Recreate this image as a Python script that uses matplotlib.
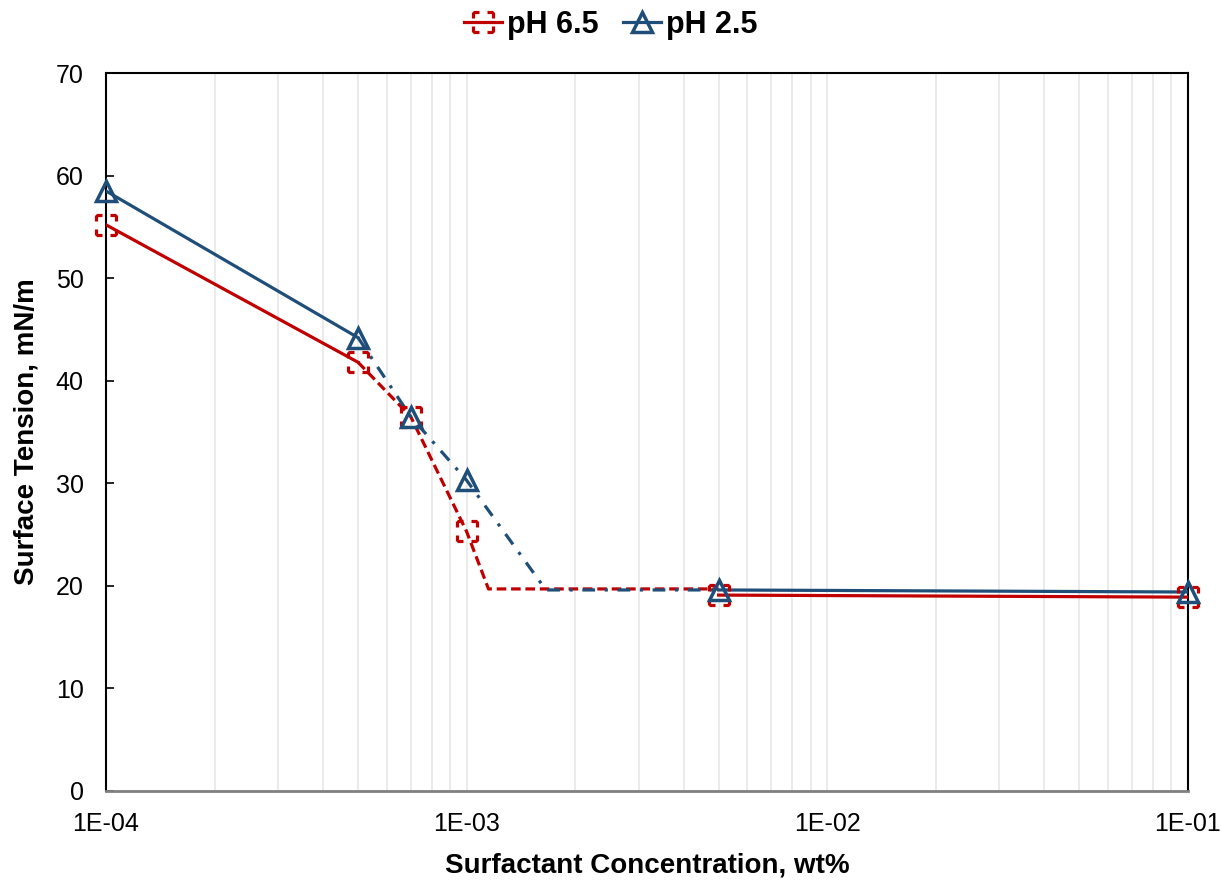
import numpy as np
import matplotlib.pyplot as plt
from matplotlib.path import Path
from matplotlib.ticker import LogLocator, FixedLocator, FuncFormatter, NullFormatter

plt.rcParams['font.family'] = ['Liberation Sans', 'DejaVu Sans']

# measured surface tension vs surfactant concentration
conc = [1e-4, 5e-4, 7e-4, 1e-3, 5e-3, 1e-1]
st_ph65 = [55.2, 41.8, 36.5, 25.3, 19.1, 18.9]
st_ph25 = [58.5, 44.2, 36.5, 30.3, 19.6, 19.4]

# CMC break points where the fitted line levels off
cmc_ph65 = (1.15e-3, 19.7)
cmc_ph25 = (1.66e-3, 19.6)

red = '#C00000'
blue = '#1F4E79'

# square marker drawn as four corner brackets (dashed outline look)
verts, codes = [], []
for (x0, y0), (x1, y1) in [((-1, -1), (1, -1)), ((1, -1), (1, 1)),
                           ((1, 1), (-1, 1)), ((-1, 1), (-1, -1))]:
    for a, b in [(0.0, 0.3), (0.7, 1.0)]:
        verts += [(x0 + (x1 - x0) * a, y0 + (y1 - y0) * a),
                  (x0 + (x1 - x0) * b, y0 + (y1 - y0) * b)]
        codes += [Path.MOVETO, Path.LINETO]
dash_square = Path(verts, codes)

fig = plt.figure(figsize=(12.21, 8.82), dpi=100)
ax = fig.add_axes([0.0868, 0.1032, 0.886, 0.814])

lw = 2.3
# pH 6.5: solid, dashed through the transition, solid plateau
ax.plot(conc[:2], st_ph65[:2], color=red, lw=lw, zorder=3)
ax.plot(conc[1:4] + [cmc_ph65[0], conc[4]], st_ph65[1:4] + [cmc_ph65[1], cmc_ph65[1]],
        color=red, lw=lw, ls=(0, (3, 1.5)), zorder=3)
ax.plot(conc[4:], st_ph65[4:], color=red, lw=lw, zorder=3)

# pH 2.5: solid, dash-dot through the transition, solid plateau
ax.plot(conc[:2], st_ph25[:2], color=blue, lw=lw, zorder=3)
ax.plot(conc[1:4] + [cmc_ph25[0], conc[4]], st_ph25[1:4] + [cmc_ph25[1], cmc_ph25[1]],
        color=blue, lw=lw, ls=(0, (4, 3, 1, 3)), zorder=3)
ax.plot(conc[4:], st_ph25[4:], color=blue, lw=lw, zorder=3)

ax.plot(conc, st_ph65, ls='none', marker=dash_square, ms=14, mfc='none',
        mec=red, mew=2.3, zorder=4, clip_on=False)
ax.plot(conc, st_ph25, ls='none', marker='^', ms=14, mfc='none',
        mec=blue, mew=2.5, zorder=5, clip_on=False)

# legend proxies
h65, = ax.plot([], [], color=red, lw=lw, marker=dash_square, ms=14, mfc='none', mec=red, mew=2.3)
h25, = ax.plot([], [], color=blue, lw=lw, marker='^', ms=14, mfc='none', mec=blue, mew=2.5)
fig.legend([h65, h25], ['pH 6.5', 'pH 2.5'], loc='center', bbox_to_anchor=(0.5, 0.972),
           ncol=2, frameon=False, handlelength=1.25, handletextpad=0.15, columnspacing=0.8,
           borderpad=0, prop={'weight': 'bold', 'size': 22})

ax.set_xscale('log')
ax.set_xlim(1e-4, 1e-1)
ax.set_ylim(0, 70)
ax.set_yticks(np.arange(0, 71, 10))
ax.xaxis.set_major_locator(FixedLocator([1e-4, 1e-3, 1e-2, 1e-1]))
ax.xaxis.set_major_formatter(FuncFormatter(lambda v, p: '1E-%02d' % round(-np.log10(v))))
ax.xaxis.set_minor_locator(LogLocator(base=10, subs=np.arange(2, 10)))
ax.xaxis.set_minor_formatter(NullFormatter())
ax.grid(True, axis='x', which='both', color='#e8e8e8', lw=1.2, zorder=0)
ax.tick_params(axis='x', which='both', length=0, labelsize=18, pad=15)
ax.tick_params(axis='y', direction='in', length=6, width=1.2, labelsize=18, pad=16)

for s in ['left', 'top', 'right']:
    ax.spines[s].set_color('black')
    ax.spines[s].set_linewidth(1.5)
ax.spines['bottom'].set_color('#808080')
ax.spines['bottom'].set_linewidth(2)

ax.set_xlabel('Surfactant Concentration, wt%', fontsize=20, fontweight='bold', labelpad=12)
ax.set_ylabel('Surface Tension, mN/m', fontsize=20, fontweight='bold', labelpad=12)

fig.savefig('out.png', dpi=100)
